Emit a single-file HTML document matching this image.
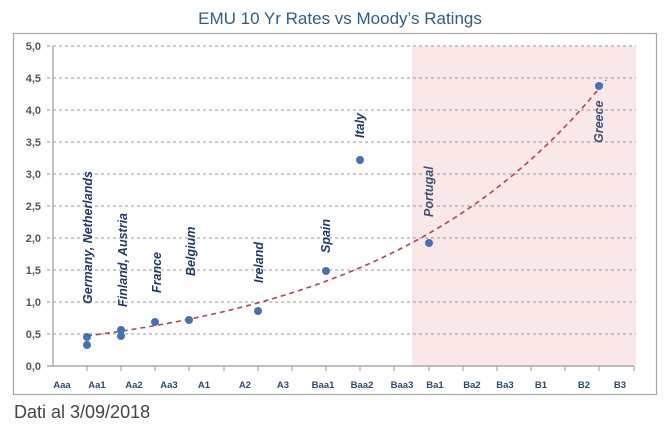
<!DOCTYPE html>
<html><head><meta charset="utf-8"><style>
html,body{margin:0;padding:0;background:#fff;}
svg{display:block;font-family:"Liberation Sans",sans-serif;}
</style></head><body>
<svg width="672" height="429" viewBox="0 0 672 429" xmlns="http://www.w3.org/2000/svg">
<rect x="0" y="0" width="672" height="429" fill="#fff"/>
<text x="340" y="24" font-size="17" fill="#2f5e86" text-anchor="middle">EMU 10 Yr Rates vs Moody’s Ratings</text>
<rect x="13.5" y="33.5" width="643" height="361" fill="none" stroke="#a8a8a8" stroke-width="1.2"/>
<rect x="412" y="46" width="224" height="320" fill="#fae7e7"/>
<g stroke="#9a9a9a" stroke-width="1" stroke-dasharray="3,3">
<line x1="47" y1="46" x2="636" y2="46"/>
<line x1="47" y1="78" x2="636" y2="78"/>
<line x1="47" y1="110" x2="636" y2="110"/>
<line x1="47" y1="142" x2="636" y2="142"/>
<line x1="47" y1="174" x2="636" y2="174"/>
<line x1="47" y1="206" x2="636" y2="206"/>
<line x1="47" y1="238" x2="636" y2="238"/>
<line x1="47" y1="270" x2="636" y2="270"/>
<line x1="47" y1="302" x2="636" y2="302"/>
<line x1="47" y1="334" x2="636" y2="334"/>
</g>
<line x1="53" y1="46" x2="53" y2="366" stroke="#9a9a9a" stroke-width="1.2"/>
<line x1="47" y1="366" x2="634" y2="366" stroke="#9a9a9a" stroke-width="1.2"/>
<g stroke="#9a9a9a" stroke-width="1">
<line x1="87" y1="366" x2="87" y2="371"/><line x1="121" y1="366" x2="121" y2="371"/><line x1="155" y1="366" x2="155" y2="371"/><line x1="189" y1="366" x2="189" y2="371"/><line x1="224" y1="366" x2="224" y2="371"/><line x1="258" y1="366" x2="258" y2="371"/><line x1="292" y1="366" x2="292" y2="371"/><line x1="326" y1="366" x2="326" y2="371"/><line x1="360" y1="366" x2="360" y2="371"/><line x1="394" y1="366" x2="394" y2="371"/><line x1="429" y1="366" x2="429" y2="371"/><line x1="463" y1="366" x2="463" y2="371"/><line x1="497" y1="366" x2="497" y2="371"/><line x1="531" y1="366" x2="531" y2="371"/><line x1="565" y1="366" x2="565" y2="371"/><line x1="599" y1="366" x2="599" y2="371"/><line x1="634" y1="366" x2="634" y2="371"/>
</g>
<g font-size="11" fill="#555" text-anchor="end" font-weight="bold">
<text x="41" y="50">5,0</text><text x="41" y="82">4,5</text><text x="41" y="114">4,0</text><text x="41" y="146">3,5</text><text x="41" y="178">3,0</text><text x="41" y="210">2,5</text><text x="41" y="242">2,0</text><text x="41" y="274">1,5</text><text x="41" y="306">1,0</text><text x="41" y="338">0,5</text><text x="41" y="370">0,0</text>
</g>
<g font-size="9.5" fill="#2e4a6e" text-anchor="middle" font-weight="bold">
<text x="62" y="388">Aaa</text><text x="97" y="388">Aa1</text><text x="134" y="388">Aa2</text><text x="169" y="388">Aa3</text><text x="204" y="388">A1</text><text x="245" y="388">A2</text><text x="283" y="388">A3</text><text x="323" y="388">Baa1</text><text x="362" y="388">Baa2</text><text x="402" y="388">Baa3</text><text x="435" y="388">Ba1</text><text x="472" y="388">Ba2</text><text x="505" y="388">Ba3</text><text x="541" y="388">B1</text><text x="584" y="388">B2</text><text x="620" y="388">B3</text>
</g>
<path id="tr" fill="none" stroke="#b0454a" stroke-width="1.6" stroke-dasharray="5,4" d=""/>
<script>
(function(){var p=[];for(var x=87;x<=606;x+=3){var i=(x-53)/34.1;var v=0.47*Math.exp(0.148*(i-1));p.push(x+','+(366-64*v).toFixed(1));}document.getElementById('tr').setAttribute('d','M'+p.join(' L'));})();
</script>
<g fill="#4472b4">
<circle cx="87" cy="337" r="4"/><circle cx="87" cy="345" r="4"/><circle cx="121" cy="330" r="4"/><circle cx="121" cy="336" r="4"/><circle cx="155" cy="322" r="4"/><circle cx="189" cy="320" r="4"/><circle cx="258" cy="311" r="4"/><circle cx="326" cy="271" r="4"/><circle cx="360" cy="160" r="4"/><circle cx="429" cy="243" r="4"/><circle cx="599" cy="86" r="4"/>
</g>
<g font-size="12.5" fill="#1f3a64" font-weight="bold" font-style="italic">
<text transform="translate(92,304) rotate(-90)">Germany, Netherlands</text>
<text transform="translate(127,307) rotate(-90)">Finland, Austria</text>
<text transform="translate(161,293) rotate(-90)">France</text>
<text transform="translate(195,276) rotate(-90)">Belgium</text>
<text transform="translate(263,283) rotate(-90)">Ireland</text>
<text transform="translate(330,253) rotate(-90)">Spain</text>
<text transform="translate(364,138) rotate(-90)">Italy</text>
<text transform="translate(433,217) rotate(-90)" fill="#3a5478">Portugal</text>
<text transform="translate(603,143) rotate(-90)" fill="#3a5478">Greece</text>
</g>
<text x="14" y="418" font-size="18" fill="#444">Dati al 3/09/2018</text>
</svg>
</body></html>
